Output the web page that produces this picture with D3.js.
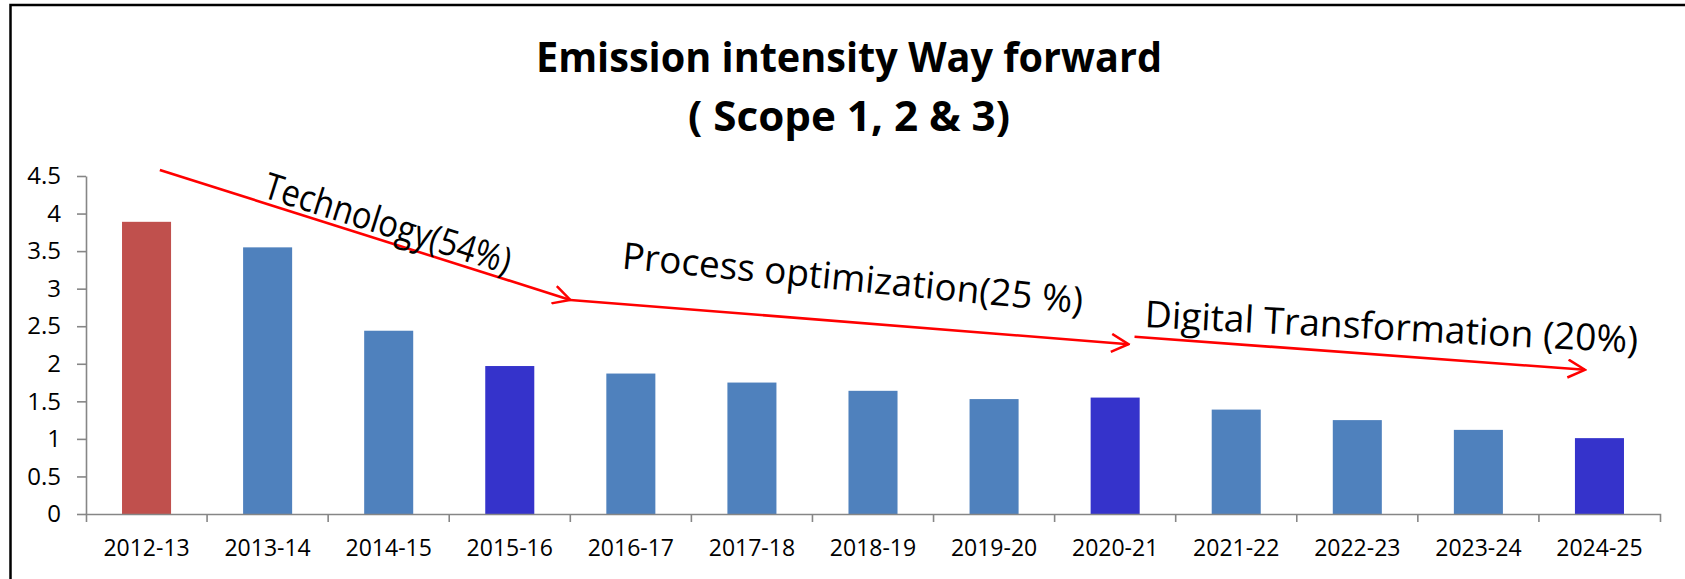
<!DOCTYPE html>
<html lang="en">

<head>
    <meta charset="UTF-8">
    <title>Emission intensity Way forward</title>
    <script src="https://cdn.jsdelivr.net/npm/d3@7"></script>
    <style>
        body { margin: 0; background: #fff; }
        text { font-family: "Open Sans", sans-serif; }
    </style>
</head>

<body>

    <svg class="chart" width="1685" height="579"></svg>

    <script>
        // data
        const years = ['2012-13', '2013-14', '2014-15', '2015-16', '2016-17', '2017-18', '2018-19',
            '2019-20', '2020-21', '2021-22', '2022-23', '2023-24', '2024-25']
        const intensity = [3.89, 3.55, 2.44, 1.97, 1.87, 1.75, 1.64, 1.53, 1.55, 1.39, 1.25, 1.12, 1.01]
        const barKind = ['base', 'plan', 'plan', 'milestone', 'plan', 'plan', 'plan',
            'plan', 'milestone', 'plan', 'plan', 'plan', 'milestone']
        const yTicks = [0, 0.5, 1, 1.5, 2, 2.5, 3, 3.5, 4, 4.5]
        const titleLines = ['Emission intensity Way forward', '( Scope 1, 2 & 3)']
        const phaseLabels = ['Technology(54%)', 'Process optimization(25 %)', 'Digital Transformation (20%)']

        // arrows and labels placed in chart units: [category slot, value]
        const arrowFrom = [[0.61, 4.58], [4.0, 2.85], [8.66, 2.36]]
        const arrowTo = [[4.0, 2.85], [8.61, 2.26], [12.38, 1.92]]
        const labelAt = [[1.45, 4.22], [4.42, 3.27], [8.74, 2.49]]
        const labelAngle = [17.5, 5.6, 3.0]
        const labelLength = [257, 463, 494]

        const colors = { base: '#C0504D', plan: '#4F81BD', milestone: '#3533CB' }

        const svg = d3.select('.chart')
        const width = +svg.attr('width')
        const height = +svg.attr('height')
        const margin = { top: 176, right: 25, bottom: 65, left: 86 }

        const x = d3.scaleBand()
            .domain(years)
            .range([margin.left, width - margin.right])
            .paddingInner(0.595)
            .paddingOuter(0.2975)

        const y = d3.scaleLinear()
            .domain([0, 4.5])
            .range([height - margin.bottom, margin.top])

        const slot = i => x.range()[0] + i * x.step()

        // outer frame (top + left edge only)
        svg.append('path')
            .attr('d', `M10.5,${height} V5 H${width}`)
            .attr('fill', 'none')
            .attr('stroke', '#000')
            .attr('stroke-width', 2.5)

        // title
        svg.append('g').selectAll('text')
            .data(titleLines)
            .enter()
            .append('text')
            .attr('x', 849)
            .attr('y', (d, i) => 72 + i * 59)
            .attr('text-anchor', 'middle')
            .attr('font-size', 42)
            .attr('font-weight', 'bold')
            .attr('textLength', (d, i) => i === 0 ? 626 : 322)
            .attr('lengthAdjust', 'spacingAndGlyphs')
            .text(d => d)

        // bars
        svg.append('g').selectAll('rect')
            .data(intensity)
            .enter()
            .append('rect')
            .attr('x', (d, i) => x(years[i]))
            .attr('y', d => y(d))
            .attr('width', x.bandwidth())
            .attr('height', d => y(0) - y(d))
            .attr('fill', (d, i) => colors[barKind[i]])

        // axes
        const yAxisGroup = svg.append('g')
            .attr('transform', `translate(${margin.left},0)`)
            .call(d3.axisLeft(y).tickValues(yTicks).tickSize(9).tickSizeOuter(0)
                .tickPadding(16).tickFormat(d3.format('')))

        const xAxisGroup = svg.append('g')
            .attr('transform', `translate(0,${y(0)})`)
            .call(d3.axisBottom(x).tickSizeInner(0).tickSizeOuter(8).tickPadding(26))

        // category boundary ticks
        xAxisGroup.selectAll('.sep')
            .data(d3.range(1, years.length))
            .enter()
            .append('line')
            .attr('class', 'sep')
            .attr('x1', d => slot(d))
            .attr('x2', d => slot(d))
            .attr('y1', 0)
            .attr('y2', 8)

        svg.selectAll('.domain, .tick line, .sep')
            .attr('stroke', '#868686')
            .attr('stroke-width', 1.6)
        svg.selectAll('.tick text')
            .attr('font-size', 23)
            .attr('font-family', '"Open Sans", sans-serif')
            .attr('fill', '#000')
        yAxisGroup.selectAll('.tick text').attr('font-size', 24)

        // red arrows
        svg.append('defs').append('marker')
            .attr('id', 'arrowhead')
            .attr('viewBox', '0 -10 20 20')
            .attr('refX', 18)
            .attr('refY', 0)
            .attr('markerWidth', 20)
            .attr('markerHeight', 20)
            .attr('markerUnits', 'userSpaceOnUse')
            .attr('orient', 'auto')
            .append('path')
            .attr('d', 'M1,-9L18,0L1,9')
            .attr('fill', 'none')
            .attr('stroke', '#FF0000')
            .attr('stroke-width', 2.5)

        svg.append('g').selectAll('line')
            .data(arrowFrom)
            .enter()
            .append('line')
            .attr('x1', d => slot(d[0]))
            .attr('y1', d => y(d[1]))
            .attr('x2', (d, i) => slot(arrowTo[i][0]))
            .attr('y2', (d, i) => y(arrowTo[i][1]))
            .attr('stroke', '#FF0000')
            .attr('stroke-width', 2.6)
            .attr('marker-end', 'url(#arrowhead)')

        // phase labels
        svg.append('g').selectAll('text')
            .data(phaseLabels)
            .enter()
            .append('text')
            .attr('transform', (d, i) =>
                `translate(${slot(labelAt[i][0])},${y(labelAt[i][1])}) rotate(${labelAngle[i]})`)
            .attr('font-size', 37)
            .attr('textLength', (d, i) => labelLength[i])
            .attr('lengthAdjust', 'spacingAndGlyphs')
            .attr('fill', '#000')
            .text(d => d)
    </script>
</body>

</html>
